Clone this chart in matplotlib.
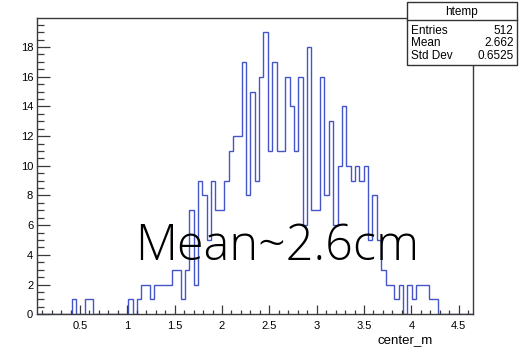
import numpy as np
import matplotlib
matplotlib.use("Agg")
import matplotlib.pyplot as plt
from matplotlib.ticker import MultipleLocator, FuncFormatter
from matplotlib.patches import Rectangle
from matplotlib.lines import Line2D

# Histogram binning (100 equal bins)
x_low = 0.043
x_high = 4.648
n_bins = 100

# Bin contents, bin 0 .. bin 99
counts = [
    0, 0, 0, 0, 0, 0, 0, 0, 1, 0,
    0, 1, 1, 0, 0, 0, 0, 0, 0, 0,
    0, 1, 0, 1, 2, 2, 1, 2, 2, 2,
    2, 3, 3, 1, 3, 7, 2, 9, 8, 5,
    9, 7, 7, 9, 11, 12, 12, 17, 8, 15,
    9, 16, 19, 11, 17, 11, 11, 16, 14, 11,
    16, 6, 18, 7, 7, 16, 8, 13, 6, 10,
    14, 10, 9, 10, 9, 10, 5, 8, 5, 3,
    2, 2, 1, 2, 0, 2, 1, 2, 2, 2,
    1, 1, 0, 0, 0, 0, 0, 0, 0, 0,
]

# Statistics box contents
stats_title = "htemp"
stats_names = ["Entries", "Mean", "Std Dev"]
stats_values = ["512", "2.662", "0.6525"]

x_title = "center_m"
annotation = "Mean~2.6cm"

W, H = 523, 350
fig = plt.figure(figsize=(W / 100, H / 100), dpi=100)
fig.patch.set_facecolor("white")

left, right, top, bottom = 36.7, 472.7, 18.0, 314.3
ax = fig.add_axes([left / W, 1 - bottom / H, (right - left) / W, (bottom - top) / H])

edges = np.linspace(x_low, x_high, n_bins + 1)
ax.stairs(counts, edges, color="#4355c8", lw=1.0, baseline=0)

ax.set_xlim(x_low, x_high)
ax.set_ylim(0, max(counts) * 1.05)

ax.xaxis.set_major_locator(MultipleLocator(0.5))
ax.xaxis.set_minor_locator(MultipleLocator(0.1))
ax.yaxis.set_major_locator(MultipleLocator(2))
ax.yaxis.set_minor_locator(MultipleLocator(0.5))
ax.xaxis.set_major_formatter(FuncFormatter(lambda v, p: "%g" % v))
ax.yaxis.set_major_formatter(FuncFormatter(lambda v, p: "%g" % v))

frame_col = "#3a3a3a"
for s in ax.spines.values():
    s.set_color(frame_col)
    s.set_linewidth(1.0)

ax.tick_params(which="both", direction="in", top=False, right=False,
               color=frame_col, width=0.9, labelsize=8,
               labelcolor="black")
ax.tick_params(axis="y", which="major", length=9.2, pad=2.5)
ax.tick_params(axis="y", which="minor", length=4.7)
ax.tick_params(axis="x", which="major", length=6.3, pad=4.5)
ax.tick_params(axis="x", which="minor", length=3.1)
for lab in ax.get_xticklabels() + ax.get_yticklabels():
    lab.set_family("Liberation Sans")

# Axis title at the right end, below the labels
fig.text(433 / W, 1 - 344 / H, x_title, ha="right", va="baseline",
         fontsize=9.5, family="Liberation Sans")

# Statistics box
bx0, bx1, by0, by1 = 406.7, 516.7, 1.7, 65.0
sep_y = 19.5
fig.add_artist(Rectangle((bx0 / W, 1 - by1 / H), (bx1 - bx0) / W, (by1 - by0) / H,
                         transform=fig.transFigure, facecolor="white",
                         edgecolor="#333333", lw=1.0, zorder=10))
fig.add_artist(Line2D([bx0 / W, bx1 / W], [1 - sep_y / H, 1 - sep_y / H],
                      transform=fig.transFigure, color="#333333", lw=1.0, zorder=11))
fig.text((bx0 + bx1) / 2 / W, 1 - 15.5 / H, stats_title, ha="center", va="baseline",
         fontsize=8.5, family="Liberation Sans", zorder=12)
row_y = [34.0, 46.5, 59.0]
for name, val, ry in zip(stats_names, stats_values, row_y):
    fig.text((bx0 + 4) / W, 1 - ry / H, name, ha="left", va="baseline",
             fontsize=8.5, family="Liberation Sans", zorder=12)
    fig.text((bx1 - 3) / W, 1 - ry / H, val, ha="right", va="baseline",
             fontsize=8.5, family="Liberation Sans", zorder=12)

# Large annotation over the plot
fig.text(135 / W, 1 - 260 / H, annotation, ha="left", va="baseline",
         fontsize=35, family="Open Sans", fontweight="light", color="black", zorder=12)

fig.savefig("out.png", dpi=100)
